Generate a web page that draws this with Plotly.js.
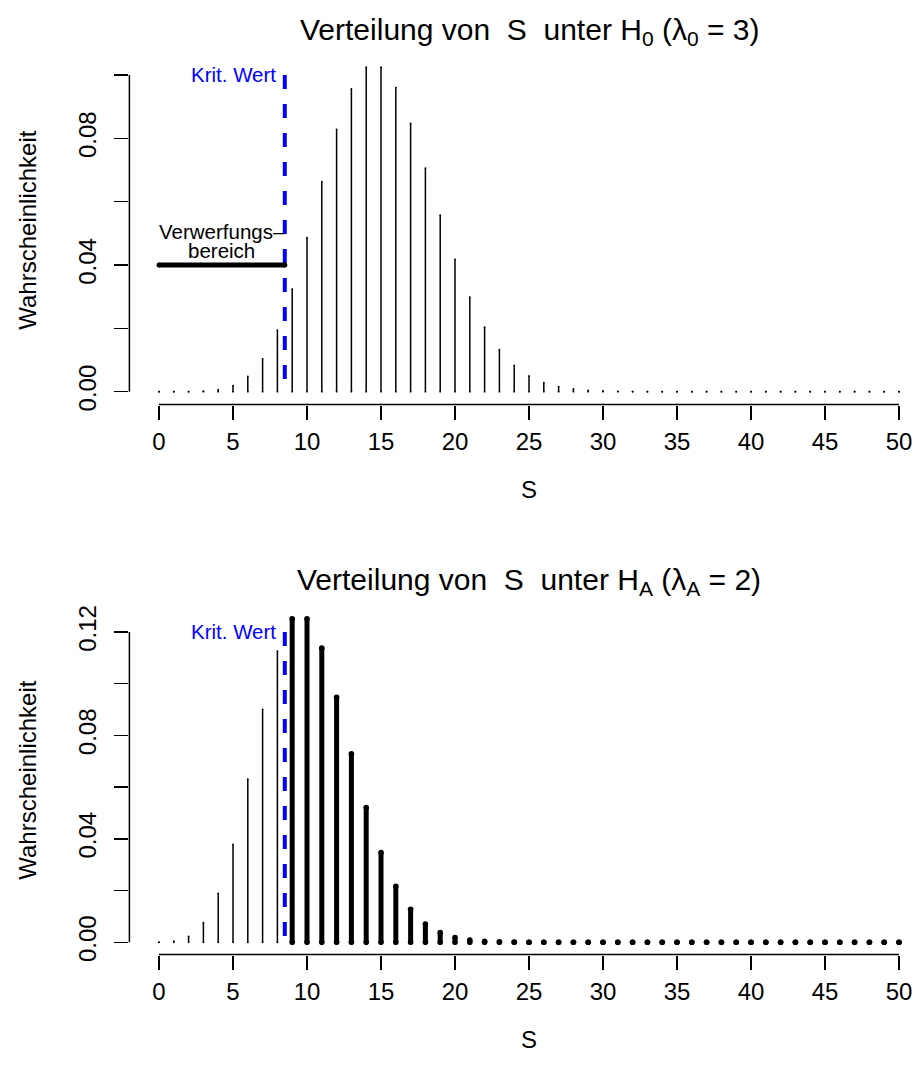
<!DOCTYPE html>
<html>
<head>
<meta charset="utf-8">
<script src="https://cdn.plot.ly/plotly-3.0.1.min.js"></script>
<style>
  html, body { margin: 0; padding: 0; background: #ffffff; }
  #plot { width: 915px; height: 1075px; }
</style>
</head>
<body>
<div id="plot"></div>
<script>
// ---------------- data ----------------
const sValues = [0,1,2,3,4,5,6,7,8,9,10,11,12,13,14,15,16,17,18,19,20,21,22,23,24,25,
                 26,27,28,29,30,31,32,33,34,35,36,37,38,39,40,41,42,43,44,45,46,47,48,49,50];

// P(S = s) under H0 (lambda0 = 3)
const probH0 = [0.0000003,0.0000046,0.0000344,0.000172,0.000645,0.00194,0.00484,0.01037,0.01944,0.03241,
                0.04861,0.06629,0.08286,0.09561,0.10244,0.10244,0.09603,0.08474,0.07061,0.05575,
                0.04181,0.02986,0.02036,0.01328,0.00830,0.00498,0.00287,0.00160,0.00086,0.00044,
                0.00022,0.00011,0.00005,0.00002,0.00001,0,0,0,0,0,
                0,0,0,0,0,0,0,0,0,0,0];

// P(S = s) under HA (lambdaA = 2)
const probHA = [0.0000454,0.000454,0.00227,0.00757,0.01892,0.03783,0.06306,0.09008,0.11260,0.12511,
                0.12511,0.11374,0.09478,0.07291,0.05208,0.03472,0.02170,0.01276,0.00709,0.00373,
                0.00187,0.00089,0.00040,0.00018,0.00007,0.00003,0.00001,0,0,0,
                0,0,0,0,0,0,0,0,0,0,
                0,0,0,0,0,0,0,0,0,0,0];

const xTicks = [0,5,10,15,20,25,30,35,40,45,50];
const yTicksH0 = [0,0.02,0.04,0.06,0.08,0.10];          // all tick marks
const yLabelTicksH0 = [0,0.04,0.08];                     // labelled ticks
const yTickLabelsH0 = ['0.00','0.04','0.08'];
const yTicksHA = [0,0.02,0.04,0.06,0.08,0.10,0.12];
const yLabelTicksHA = [0,0.04,0.08,0.12];
const yTickLabelsHA = ['0.00','0.04','0.08','0.12'];

const kritWert = 8.5;
const rejectRegion = [0, 8.5];
const rejectLevel = 0.04;

const titleH0 = 'Verteilung von\u00a0\u00a0S\u00a0\u00a0unter H<sub>0</sub>\u00a0(\u03bb<sub>0</sub>\u00a0=\u00a03)';
const titleHA = 'Verteilung von\u00a0\u00a0S\u00a0\u00a0unter H<sub>A</sub>\u00a0(\u03bb<sub>A</sub>\u00a0=\u00a02)';
const xLabel = 'S';
const yLabel = 'Wahrscheinlichkeit';
const kritLabel = 'Krit. Wert';
const rejectLabel1 = 'Verwerfungs\u2013';
const rejectLabel2 = 'bereich';

// ---------------- helpers ----------------
const W = 915, H = 1075;
const FONT = 'Liberation Sans, Arial, Helvetica, sans-serif';
const px = p => p / W;
const py = p => 1 - p / H;

function stems(xs, ys, keep) {
  const x = [], y = [];
  xs.forEach((s, i) => {
    if (keep(s)) { x.push(s, s, null); y.push(0, ys[i], null); }
  });
  return { x, y };
}

function stemTrace(st, w, dot, xa, ya) {
  return {
    type: 'scatter', mode: 'lines+markers', x: st.x, y: st.y,
    xaxis: xa, yaxis: ya, connectgaps: false, hoverinfo: 'skip',
    line: { color: '#000000', width: w },
    marker: { color: '#000000', size: dot, line: { width: 0 } },
    cliponaxis: false
  };
}

const topAll = stems(sValues, probH0, s => true);
const botThin = stems(sValues, probHA, s => s < kritWert);
const botThick = stems(sValues, probHA, s => s > kritWert);

const traces = [
  stemTrace(topAll, 1.5, 1.8, 'x', 'y'),
  stemTrace(botThin, 1.5, 1.8, 'x2', 'y2'),
  stemTrace(botThick, 5, 5.6, 'x2', 'y2'),
  { type: 'scatter', mode: 'lines', x: [kritWert, kritWert], y: [yTicksH0[yTicksH0.length - 1], 0],
    xaxis: 'x', yaxis: 'y', hoverinfo: 'skip',
    line: { color: '#0000ff', width: 4, dash: '14px,15px' } },
  { type: 'scatter', mode: 'lines', x: [kritWert, kritWert], y: [yTicksHA[yTicksHA.length - 1], 0],
    xaxis: 'x2', yaxis: 'y2', hoverinfo: 'skip',
    line: { color: '#0000ff', width: 4, dash: '14px,15px' } },
  { type: 'scatter', mode: 'lines+markers', x: rejectRegion, y: [rejectLevel, rejectLevel],
    xaxis: 'x', yaxis: 'y', hoverinfo: 'skip',
    line: { color: '#000000', width: 5 }, marker: { color: '#000000', size: 5 } }
];

// plot regions (pixels)
const plotLeft = 129.4;
const topRegion = [55, 404.5];
const botRegion = [605, 954.5];

function xAxis(anchor) {
  return {
    domain: [px(plotLeft), 1], range: [-2.0, 51.08], anchor: anchor,
    tickmode: 'array', tickvals: xTicks, ticktext: xTicks.map(String),
    ticks: 'outside', ticklen: 14, tickwidth: 1.5, tickcolor: '#000',
    showline: false, showgrid: false, zeroline: false,
    tickfont: { family: FONT, size: 24, color: '#000' }, ticklabelstandoff: 2
  };
}
function yAxis(anchor, region, zeroPx, pxPerUnit, allVals, vals, labels) {
  return {
    domain: [py(region[1]), py(region[0])],
    range: [-(region[1] - zeroPx) / pxPerUnit, (zeroPx - region[0]) / pxPerUnit],
    anchor: anchor,
    tickmode: 'array', tickvals: vals, ticktext: labels,
    ticks: 'outside', ticklen: 14, tickwidth: 1.5, tickcolor: '#000',
    minor: { tickmode: 'array', tickvals: allVals, ticks: 'outside', ticklen: 14,
             tickwidth: 1.5, tickcolor: '#000', showgrid: false },
    showline: false, showgrid: false, zeroline: false, tickangle: -90,
    tickfont: { family: FONT, size: 24, color: '#000' }, ticklabelstandoff: 9
  };
}

const layout = {
  width: W, height: H,
  margin: { l: 0, r: 0, t: 0, b: 0 },
  paper_bgcolor: '#ffffff', plot_bgcolor: '#ffffff',
  showlegend: false,
  font: { family: FONT, color: '#000', size: 24 },
  xaxis: xAxis('y'),
  yaxis: yAxis('x', topRegion, 391.7, 3167, yTicksH0, yLabelTicksH0, yTickLabelsH0),
  xaxis2: xAxis('y2'),
  yaxis2: yAxis('x2', botRegion, 942.3, 2586, yTicksHA, yLabelTicksHA, yTickLabelsHA),
  shapes: [
    // axis lines (R style, from first to last tick)
    { type: 'line', xref: 'x', yref: 'paper', x0: xTicks[0], x1: xTicks[xTicks.length - 1],
      y0: py(topRegion[1]), y1: py(topRegion[1]), line: { color: '#000', width: 1.5 } },
    { type: 'line', xref: 'paper', yref: 'y', x0: px(plotLeft), x1: px(plotLeft),
      y0: yTicksH0[0], y1: yTicksH0[yTicksH0.length - 1], line: { color: '#000', width: 1.5 } },
    { type: 'line', xref: 'x2', yref: 'paper', x0: xTicks[0], x1: xTicks[xTicks.length - 1],
      y0: py(botRegion[1]), y1: py(botRegion[1]), line: { color: '#000', width: 1.5 } },
    { type: 'line', xref: 'paper', yref: 'y2', x0: px(plotLeft), x1: px(plotLeft),
      y0: yTicksHA[0], y1: yTicksHA[yTicksHA.length - 1], line: { color: '#000', width: 1.5 } }
  ],
  annotations: [
    { text: titleH0, xref: 'paper', yref: 'paper', x: px(529), y: py(31), xanchor: 'center', yanchor: 'middle',
      showarrow: false, font: { family: FONT, size: 30, color: '#000' } },
    { text: titleHA, xref: 'paper', yref: 'paper', x: px(529), y: py(581), xanchor: 'center', yanchor: 'middle',
      showarrow: false, font: { family: FONT, size: 30, color: '#000' } },
    { text: xLabel, xref: 'paper', yref: 'paper', x: px(529), y: py(489), xanchor: 'center', yanchor: 'middle',
      showarrow: false, font: { family: FONT, size: 24, color: '#000' } },
    { text: xLabel, xref: 'paper', yref: 'paper', x: px(529), y: py(1039), xanchor: 'center', yanchor: 'middle',
      showarrow: false, font: { family: FONT, size: 24, color: '#000' } },
    { text: yLabel, xref: 'paper', yref: 'paper', x: px(28), y: py((topRegion[0] + topRegion[1]) / 2),
      xanchor: 'center', yanchor: 'middle', textangle: -90,
      showarrow: false, font: { family: FONT, size: 24, color: '#000' } },
    { text: yLabel, xref: 'paper', yref: 'paper', x: px(28), y: py((botRegion[0] + botRegion[1]) / 2),
      xanchor: 'center', yanchor: 'middle', textangle: -90,
      showarrow: false, font: { family: FONT, size: 24, color: '#000' } },
    { text: kritLabel, xref: 'x', yref: 'y', x: kritWert, y: yTicksH0[yTicksH0.length - 1],
      xanchor: 'right', yanchor: 'middle', xshift: -7, showarrow: false,
      font: { family: FONT, size: 20.5, color: '#0000ff' } },
    { text: kritLabel, xref: 'x2', yref: 'y2', x: kritWert, y: yTicksHA[yTicksHA.length - 1],
      xanchor: 'right', yanchor: 'middle', xshift: -7, showarrow: false,
      font: { family: FONT, size: 20.5, color: '#0000ff' } },
    { text: rejectLabel1, xref: 'x', yref: 'y', x: (rejectRegion[0] + rejectRegion[1]) / 2, y: rejectLevel,
      xanchor: 'center', yanchor: 'middle', yshift: 34, showarrow: false,
      font: { family: FONT, size: 20.5, color: '#000' } },
    { text: rejectLabel2, xref: 'x', yref: 'y', x: (rejectRegion[0] + rejectRegion[1]) / 2, y: rejectLevel,
      xanchor: 'center', yanchor: 'middle', yshift: 15, showarrow: false,
      font: { family: FONT, size: 20.5, color: '#000' } }
  ]
};

Plotly.newPlot('plot', traces, layout, { displayModeBar: false, staticPlot: true });
</script>
</body>
</html>
